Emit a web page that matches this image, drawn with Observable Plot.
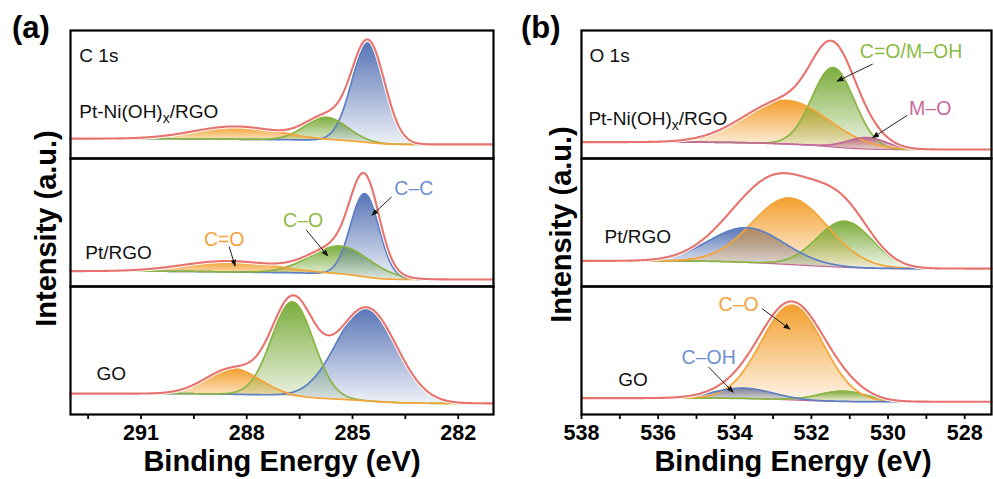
<!DOCTYPE html>
<html><head><meta charset="utf-8">
<script src="https://cdn.jsdelivr.net/npm/d3@7"></script>
<script src="https://cdn.jsdelivr.net/npm/@observablehq/plot@0.6"></script>
<style>
body{margin:0;background:#fff;}
#wrap{position:relative;width:993px;height:479px;overflow:hidden;font-family:"Liberation Sans",Arial,sans-serif;color:#000;background:#fff;}
.abs{position:absolute;white-space:nowrap;}
.plabel{font-weight:bold;font-size:31px;line-height:31px;}
.xtitle{font-weight:bold;font-size:29px;line-height:26px;width:400px;text-align:center;}
.ytitle{font-weight:bold;font-size:29px;line-height:29px;width:300px;text-align:center;transform:rotate(-90deg);}
</style></head><body>
<div id="wrap">
<svg width="0" height="0" style="position:absolute">
  <defs>
    <linearGradient id="g-blue" x1="0" y1="0" x2="0" y2="1"><stop offset="0" stop-color="#4f6db2" stop-opacity="0.95"/><stop offset="1" stop-color="#4f6db2" stop-opacity="0.1"/></linearGradient>
    <linearGradient id="g-green" x1="0" y1="0" x2="0" y2="1"><stop offset="0" stop-color="#74a832" stop-opacity="0.95"/><stop offset="1" stop-color="#74a832" stop-opacity="0.1"/></linearGradient>
    <linearGradient id="g-orange" x1="0" y1="0" x2="0" y2="1"><stop offset="0" stop-color="#f29a22" stop-opacity="0.95"/><stop offset="1" stop-color="#f29a22" stop-opacity="0.1"/></linearGradient>
    <linearGradient id="g-pink" x1="0" y1="0" x2="0" y2="1"><stop offset="0" stop-color="#b5537f" stop-opacity="0.9"/><stop offset="1" stop-color="#b5537f" stop-opacity="0.15"/></linearGradient>
    <marker id="ah" viewBox="0 0 10 10" refX="9" refY="5" markerWidth="7" markerHeight="7" orient="auto"><path d="M0,1L10,5L0,9z" fill="#111"/></marker>
  </defs>
</svg>
<div id="pa" class="abs" style="left:0;top:0;width:497px;height:479px"></div>
<div id="pb" class="abs" style="left:497px;top:0;width:496px;height:479px"></div>
<div class="abs plabel" style="left:12px;top:12px">(a)</div>
<div class="abs plabel" style="left:521px;top:12px">(b)</div>
<div class="abs xtitle" style="left:82px;top:448px">Binding Energy (eV)</div>
<div class="abs xtitle" style="left:593px;top:448px">Binding Energy (eV)</div>
<div class="abs ytitle" style="left:-104px;top:214px">Intensity (a.u.)</div>
<div class="abs ytitle" style="left:411px;top:210px">Intensity (a.u.)</div>
</div>
<script>
// ---------------- data ----------------
const SAMPLES = ["Pt-Ni(OH)x/RGO", "Pt/RGO", "GO"];

// C 1s peak fit components (per sample: [C=O, C–O, C–C])
const c1sComponents = ["C=O", "C–O", "C–C"];
const c1sCenters = [[288.3, 285.75, 284.55], [288.5, 285.35, 284.65], [288.4, 286.7, 284.6]];
const c1sFwhm    = [[2.8, 1.4, 1.1], [3.0, 2.0, 0.95], [1.8, 1.4, 2.0]];
const c1sHeights = [[0.10, 0.18, 0.78], [0.085, 0.22, 0.65], [0.20, 0.74, 0.73]];
const c1sBgHigh  = [0.155, 0.12, 0.163];
const c1sBgLow   = [0.11, 0.055, 0.087];

// O 1s peak fit components (per sample: [C–OH, C–O, C=O/M–OH, M–O])
const o1sComponents = ["C–OH", "C–O", "C=O/M–OH", "M–O"];
const o1sCenters = [[null, 532.65, 531.43, 530.55], [533.68, 532.56, 531.13, null], [533.78, 532.5, 531.18, null]];
const o1sFwhm    = [[null, 2.6, 1.3, 1.2], [2.3, 2.3, 1.7, null], [1.8, 1.9, 1.5, null]];
const o1sHeights = [[null, 0.34, 0.62, 0.09], [0.27, 0.52, 0.36, null], [0.08, 0.74, 0.08, null]];
const o1sBgHigh  = [0.128, 0.2, 0.128];
const o1sBgLow   = [0.07, 0.14, 0.1];

// axis ticks
const c1sTicks = [292.5, 291, 289.5, 288, 286.5, 285, 283.5, 282];
const o1sTicks = [538, 537, 536, 535, 534, 533, 532, 531, 530, 529, 528];

// annotations
const c1sSampleLabels = [
  {sample: "Pt-Ni(OH)x/RGO", text: "C 1s", e: 292.75, y: 0.805},
  {sample: "Pt-Ni(OH)x/RGO", text: "Pt-Ni(OH)x/RGO", e: 292.75, y: 0.364},
  {sample: "Pt/RGO", text: "Pt/RGO", e: 292.58, y: 0.265},
  {sample: "GO", text: "GO", e: 292.26, y: 0.316}
];
const c1sPeakLabels = [
  {sample: "Pt/RGO", text: "C=O", key: "C=O", e: 288.64, y: 0.365},
  {sample: "Pt/RGO", text: "C–O", key: "C–O", e: 286.4, y: 0.516},
  {sample: "Pt/RGO", text: "C–C", key: "C–C", e: 283.26, y: 0.767}
];
const c1sArrows = [
  {sample: "Pt/RGO", e1: 288.5, y1: 0.312, e2: 288.33, y2: 0.16},
  {sample: "Pt/RGO", e1: 286.32, y1: 0.444, e2: 285.7, y2: 0.238},
  {sample: "Pt/RGO", e1: 283.89, y1: 0.70, e2: 284.45, y2: 0.556}
];
const o1sSampleLabels = [
  {sample: "Pt-Ni(OH)x/RGO", text: "O 1s", e: 537.79, y: 0.805},
  {sample: "Pt-Ni(OH)x/RGO", text: "Pt-Ni(OH)x/RGO", e: 537.82, y: 0.31},
  {sample: "Pt/RGO", text: "Pt/RGO", e: 537.4, y: 0.387},
  {sample: "GO", text: "GO", e: 537.04, y: 0.272}
];
const o1sPeakLabels = [
  {sample: "Pt-Ni(OH)x/RGO", text: "C=O/M–OH", key: "C=O/M–OH", e: 529.4, y: 0.832},
  {sample: "Pt-Ni(OH)x/RGO", text: "M–O", key: "M–O", e: 528.9, y: 0.39},
  {sample: "GO", text: "C–O", key: "C–O", e: 533.9, y: 0.859},
  {sample: "GO", text: "C–OH", key: "C–OH", e: 534.68, y: 0.44}
];
const o1sArrows = [
  {sample: "Pt-Ni(OH)x/RGO", e1: 530.4, y1: 0.738, e2: 531.33, y2: 0.604},
  {sample: "Pt-Ni(OH)x/RGO", e1: 529.5, y1: 0.337, e2: 530.4, y2: 0.163},
  {sample: "GO", e1: 533.29, y1: 0.827, e2: 532.56, y2: 0.667},
  {sample: "GO", e1: 534.69, y1: 0.373, e2: 534.04, y2: 0.173}
];

// ---------------- styles ----------------
const LINE = {blue: "#5d80c4", green: "#8ab543", orange: "#f4a53a", pink: "#c46a98"};
const LABEL = {blue: "#6f8fd0", green: "#8cbb45", orange: "#f5a23a", pink: "#c8689a"};
const RED = "#e8736d";
const FONT = "Liberation Sans, Arial, sans-serif";

// ---------------- model: components on a Shirley background ----------------
const STEP = 0.02;
const gauss = (e, c, w) => Math.exp(-4 * Math.LN2 * ((e - c) / w) ** 2);

function model(components, centers, fwhm, heights, bgHigh, bgLow, lo, hi) {
  const n = Math.round((hi - lo) / STEP);
  const energies = d3.range(n + 1).map(k => lo + k * STEP);
  const comp = [], env = [], base = [];
  SAMPLES.forEach((sample, i) => {
    const peaks = components.map((name, j) => ({name, c: centers[i][j], w: fwhm[i][j], a: heights[i][j]}))
      .filter(p => p.c != null);
    const sums = energies.map(e => d3.sum(peaks, p => p.a * gauss(e, p.c, p.w)));
    const cum = [0];
    for (let k = 1; k < sums.length; k++) cum.push(cum[k - 1] + (sums[k] + sums[k - 1]) * STEP / 2);
    const total = cum[cum.length - 1];
    energies.forEach((e, k) => {
      const bg = bgLow[i] + (bgHigh[i] - bgLow[i]) * cum[k] / total;
      base.push({sample, e, bg});
      env.push({sample, e, v: bg + sums[k]});
      peaks.forEach(p => comp.push({sample, name: p.name, e, bg, v: bg + p.a * gauss(e, p.c, p.w)}));
    });
  });
  return {comp, env, base};
}

function drawPanel(o) {
  const marks = [];
  for (const name of o.areaOrder)
    marks.push(Plot.areaY(o.data.comp.filter(d => d.name === name),
      {x: "e", y1: "bg", y2: "v", fy: "sample", fill: `url(#g-${o.colors[name]})`}));
  if (o.bgLine)
    marks.push(Plot.line(o.data.base, {x: "e", y: "bg", fy: "sample", stroke: LINE.pink, strokeWidth: 1.3}));
  for (const name of o.lineOrder)
    marks.push(Plot.line(o.data.comp.filter(d => d.name === name),
      {x: "e", y: "v", fy: "sample", stroke: LINE[o.colors[name]], strokeWidth: 1.7}));
  marks.push(Plot.line(o.data.env, {x: "e", y: "v", fy: "sample", stroke: "white", strokeWidth: 4}));
  marks.push(Plot.line(o.data.env, {x: "e", y: "v", fy: "sample", stroke: RED, strokeWidth: 2.1}));
  marks.push(Plot.text(o.sampleLabels, {x: "e", y: "y", fy: "sample", text: "text", textAnchor: "start",
    fontSize: 19, fontWeight: "normal", fill: "#111"}));
  for (const t of o.peakLabels)
    marks.push(Plot.text([t], {x: "e", y: "y", fy: "sample", text: "text", fontSize: 19.5,
      fontWeight: "normal", fill: LABEL[o.colors[t.key]]}));
  marks.push(Plot.link(o.arrows, {x1: "e1", y1: "y1", x2: "e2", y2: "y2", fy: "sample", stroke: "#222", strokeWidth: 1}));
  marks.push(Plot.frame({stroke: "#000", strokeWidth: 2.2}));

  const svg = Plot.plot({
    width: o.width, height: 479,
    marginLeft: o.marginLeft, marginRight: o.marginRight, marginTop: 29, marginBottom: 64,
    style: {fontFamily: FONT, fontSize: "21.5px", fontWeight: "bold", background: "transparent", overflow: "visible", color: "#000"},
    x: {domain: o.domain, ticks: o.ticks, tickFormat: o.fmt, tickSize: 5, tickPadding: 5, label: null},
    y: {domain: [0, 1], axis: null},
    fy: {domain: SAMPLES, axis: null, padding: 0},
    marks
  });
  const s = d3.select(svg);
  s.selectAll('g[aria-label="link"] path').attr("marker-end", "url(#ah)");
  s.selectAll('g[aria-label^="x-axis"]').attr("stroke-width", 1.8);
  s.selectAll("text").filter(function () { return this.textContent === "Pt-Ni(OH)x/RGO"; }).each(function () {
    const t = d3.select(this);
    t.text("");
    t.append("tspan").text("Pt-Ni(OH)");
    t.append("tspan").attr("dy", 5).attr("font-size", 14).text("x");
    t.append("tspan").attr("dy", -5).text("/RGO");
  });
  return svg;
}

const c1s = model(c1sComponents, c1sCenters, c1sFwhm, c1sHeights, c1sBgHigh, c1sBgLow, 281, 293);
const o1s = model(o1sComponents, o1sCenters, o1sFwhm, o1sHeights, o1sBgHigh, o1sBgLow, 527.3, 538);

document.getElementById("pa").append(drawPanel({
  data: c1s, width: 497, marginLeft: 70, marginRight: 4, domain: [293, 281],
  ticks: c1sTicks, fmt: d => (d % 1 === 0 ? String(d) : ""),
  colors: {"C=O": "orange", "C–O": "green", "C–C": "blue"},
  areaOrder: ["C=O", "C–O", "C–C"], lineOrder: ["C–C", "C–O", "C=O"], bgLine: false,
  sampleLabels: c1sSampleLabels, peakLabels: c1sPeakLabels, arrows: c1sArrows
}));
document.getElementById("pb").append(drawPanel({
  data: o1s, width: 496, marginLeft: 84, marginRight: 2, domain: [538, 527.3],
  ticks: o1sTicks, fmt: d => (d % 2 === 0 ? String(d) : ""),
  colors: {"C–OH": "blue", "C–O": "orange", "C=O/M–OH": "green", "M–O": "pink"},
  areaOrder: ["C–OH", "C–O", "C=O/M–OH", "M–O"], lineOrder: ["C=O/M–OH", "C–O", "C–OH", "M–O"], bgLine: true,
  sampleLabels: o1sSampleLabels, peakLabels: o1sPeakLabels, arrows: o1sArrows
}));
</script>
</body></html>
